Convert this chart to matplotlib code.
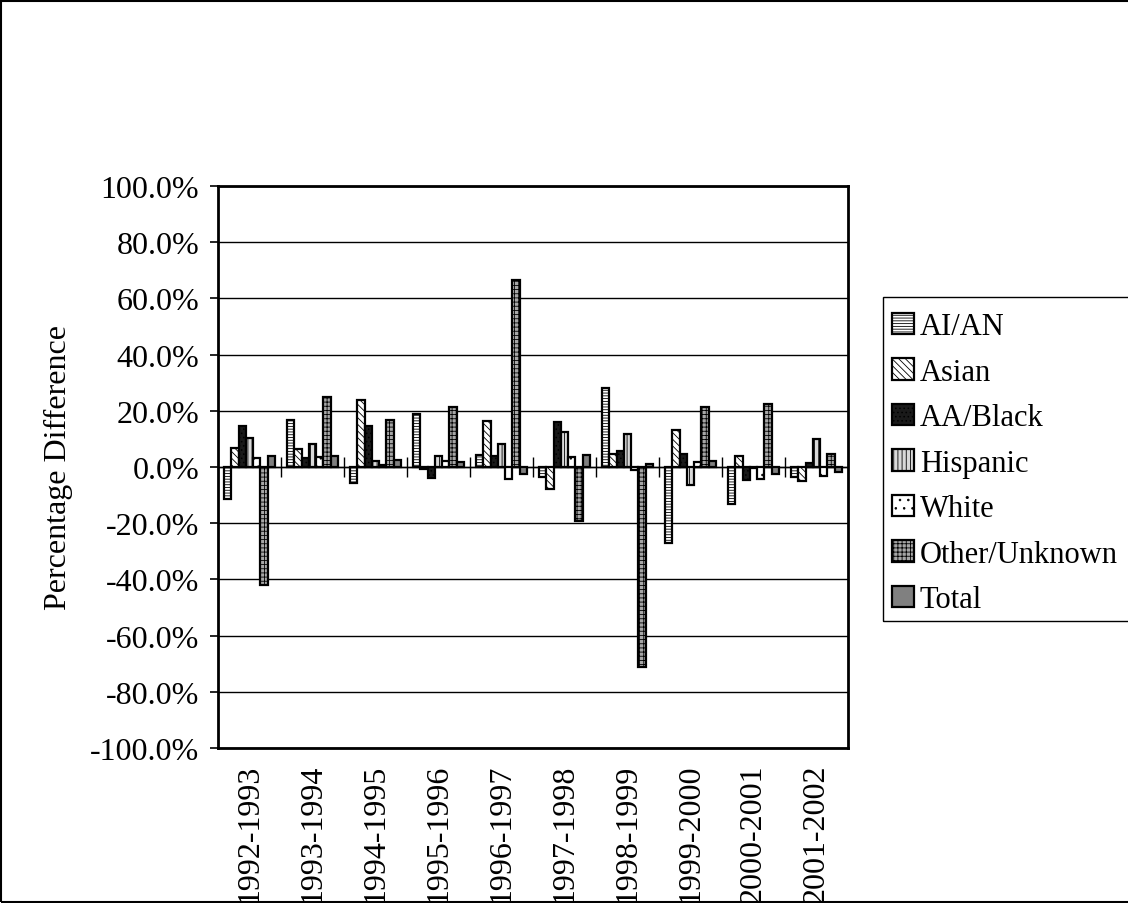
import matplotlib.pyplot as plt
import matplotlib.patches as mpatches
from matplotlib.ticker import FuncFormatter
import numpy as np

# data (percent)
years = ["1992-1993", "1993-1994", "1994-1995", "1995-1996", "1996-1997",
         "1997-1998", "1998-1999", "1999-2000", "2000-2001", "2001-2002"]
ai_an = [-11.5, 16.8, -5.8, 18.8, 4.4, -3.5, 28.0, -26.9, -13.3, -3.4]
asian = [6.7, 6.4, 23.9, -0.8, 16.2, -7.8, 4.7, 13.3, 4.0, -5.0]
aa_black = [14.5, 3.1, 14.5, -4.0, 4.0, 15.9, 5.8, 4.5, -4.5, 1.4]
hispanic = [10.3, 8.2, 2.3, 3.8, 8.2, 12.3, 11.7, -6.4, -0.5, 10.0]
white = [3.1, 3.4, 0.8, 2.0, -4.3, 3.4, -1.1, 1.8, -4.3, -3.1]
other = [-42.0, 24.9, 16.6, 21.2, 66.6, -19.2, -71.3, 21.2, 22.5, 4.7]
total = [4.0, 3.8, 2.4, 1.7, -2.5, 4.3, 0.9, 2.0, -2.6, -1.9]

series = [
    ("AI/AN", ai_an, "white", "------"),
    ("Asian", asian, "white", "\\\\\\\\\\"),
    ("AA/Black", aa_black, "#1a1a1a", "...."),
    ("Hispanic", hispanic, "#d9d9d9", "||||"),
    ("White", white, "white", ".."),
    ("Other/Unknown", other, "#a6a6a6", "++++"),
    ("Total", total, "#808080", None),
]

plt.rcParams["font.family"] = ["Liberation Serif", "DejaVu Serif"]
plt.rcParams["hatch.linewidth"] = 0.6

fig = plt.figure(figsize=(11.28, 9.04), dpi=100)
ax = fig.add_axes([218 / 1128, 1 - 749 / 904, 630 / 1128, 562 / 904])

x = np.arange(len(years))
w = 0.116
n = len(series)
for i, (name, vals, fc, hatch) in enumerate(series):
    ax.bar(x + (i - (n - 1) / 2) * w, vals, w, color=fc, edgecolor="black",
           linewidth=1.6, hatch=hatch, label=name, zorder=3)

ax.set_ylim(-100, 100)
ax.set_xlim(-0.5, len(years) - 0.5)
ax.set_yticks(np.arange(-100, 101, 20))
ax.yaxis.set_major_formatter(FuncFormatter(lambda v, p: f"{v:.1f}%"))
ax.grid(axis="y", color="black", linewidth=1, zorder=0)
ax.axhline(0, color="black", linewidth=1, zorder=2)
# category tick marks on the zero line
ax.vlines(x[:-1] + 0.5, -3.5, 3.5, color="black", linewidth=1, zorder=2)

ax.set_xticks(x)
ax.set_xticklabels(years, rotation=90, fontsize=23)
ax.tick_params(axis="x", length=0, pad=11)
ax.tick_params(axis="y", direction="out", length=6, width=1.2, labelsize=23, pad=7.5)
for s in ax.spines.values():
    s.set_linewidth(2)

ax.set_ylabel("Percentage Difference", fontsize=23)
ax.yaxis.set_label_coords(-0.23, 0.5)

# legend without its own frame; the box is drawn below
leg = ax.legend(loc="upper left", bbox_to_anchor=(883 / 1128, 1 - 304 / 904),
                bbox_transform=fig.transFigure, fontsize=22, frameon=False,
                handlelength=0.7, handleheight=0.7, handletextpad=0.2,
                labelspacing=0.54, borderpad=0.3, borderaxespad=0)

fig.patches.append(mpatches.Rectangle((883 / 1128, 1 - 622 / 904), 260 / 1128, 324 / 904,
                                      transform=fig.transFigure, fill=False,
                                      edgecolor="black", linewidth=1))

# chart area border
fig.patches.append(mpatches.Rectangle((0.001, 0.001), 1.2, 0.997, transform=fig.transFigure,
                                      fill=False, edgecolor="black", linewidth=1.5))

fig.savefig("out.png", dpi=100)
